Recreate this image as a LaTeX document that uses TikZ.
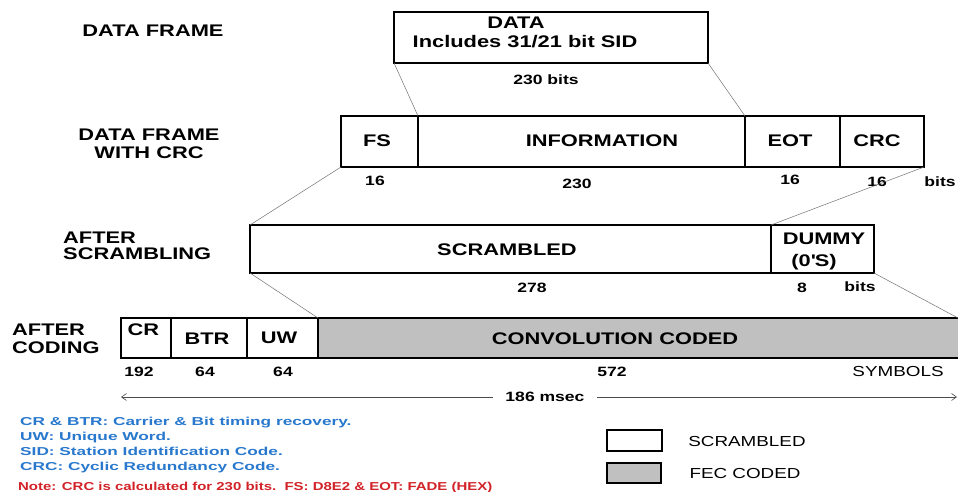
\documentclass[tikz,border=0pt]{standalone}
\usepackage{fontspec}
\setmainfont{Liberation Sans}[FakeStretch=1.3]
\newfontfamily\notefont{Liberation Sans}[FakeStretch=1.5]
\usetikzlibrary{arrows.meta}
\definecolor{fecgray}{RGB}{192,192,192}
\definecolor{noteblue}{RGB}{40,120,205}
\definecolor{notered}{RGB}{210,35,40}
\tikzset{
  box/.style={draw=black, line width=1.6pt, anchor=north west, inner sep=0pt, outer sep=0pt},
  legbox/.style={box, line width=2.2pt},
  conn/.style={draw=black!55, line width=0.5pt},
  dim/.style={draw=black!70, line width=0.6pt, {Straight Barb[length=5pt,width=7pt]}-{Straight Barb[length=5pt,width=7pt]}},
  big/.style={font=\bfseries\fontsize{16.8}{18.5}\selectfont, inner sep=0pt},
  num/.style={font=\bfseries\fontsize{13.5}{15}\selectfont, inner sep=0pt},
  reg/.style={font=\fontsize{14.5}{16}\selectfont, inner sep=0pt},
  note/.style={font=\notefont\bfseries\fontsize{11.5}{13}\selectfont, inner sep=0pt, anchor=base west, text=noteblue},
  rednote/.style={font=\bfseries\fontsize{11.5}{13}\selectfont, inner sep=0pt, anchor=base west, text=notered},
}
\begin{document}
\begin{tikzpicture}[x=1pt,y=-1pt]
\clip (0,0) rectangle (958,492);
\fill[white] (0,0) rectangle (958,492);

% ---------- row labels
\node[big] (l1) at (153,31) {DATA FRAME};
\node[big, align=center] (l2) at (149,144) {DATA FRAME\\WITH CRC};
\node[big, align=left, anchor=west, font=\bfseries\fontsize{16.8}{16.5}\selectfont] (l3) at (63,246) {AFTER\\SCRAMBLING};
\node[big, align=left, anchor=west] (l4) at (12,339) {AFTER\\CODING};

% ---------- row 1
\node[box, minimum width=314pt, minimum height=51pt] (data) at (394,12) {};
\node[big] (tdata1) at (516,23) {DATA};
\node[big] (tdata2) at (525,42) {Includes 31/21 bit SID};
\node[num] (n230b) at (546,80) {230 bits};

% ---------- row 2
\node[box, minimum width=77pt, minimum height=51pt] (fs) at (341,116) {};
\node[box, minimum width=327pt, minimum height=51pt] (info) at (418,116) {};
\node[box, minimum width=95pt, minimum height=51pt] (eot) at (745,116) {};
\node[box, minimum width=84pt, minimum height=51pt] (crc) at (840,116) {};
\node[big] (tfs) at (377,141) {FS};
\node[big] (tinfo) at (602,141) {INFORMATION};
\node[big] (teot) at (790,141) {EOT};
\node[big] (tcrc) at (877,141) {CRC};
\node[num] (n16a) at (375,181) {16};
\node[num] (n230) at (577,184) {230};
\node[num] (n16b) at (790,180) {16};
\node[num] (n16c) at (877,182) {16};
\node[num] (nbits1) at (940,182) {bits};

% ---------- row 3
\node[box, minimum width=521pt, minimum height=48pt] (scr) at (250,225) {};
\node[box, minimum width=103pt, minimum height=48pt] (dummy) at (771,225) {};
\node[big] (tscr) at (507,250) {SCRAMBLED};
\node[big] (tdum1) at (824,239) {DUMMY};
\node[big] (tdum2) at (814,262) {(0\textquotesingle S)};
\node[num] (n278) at (532,288) {278};
\node[num] (n8) at (802,288) {8};
\node[num] (nbits2) at (860,287) {bits};

% ---------- row 4
\node[box, minimum width=50pt, minimum height=40pt] (cr) at (121,318) {};
\node[box, minimum width=76pt, minimum height=40pt] (btr) at (171,318) {};
\node[box, minimum width=71pt, minimum height=40pt] (uw) at (247,318) {};
\node[box, fill=fecgray, minimum width=660pt, minimum height=40pt] (conv) at (318,318) {};
\coordinate (convend) at (958,318);
\node[big] (tcr) at (143.5,330) {CR};
\node[big] (tbtr) at (207,339) {BTR};
\node[big] (tuw) at (279,338) {UW};
\node[big] (tconv) at (615,339) {CONVOLUTION CODED};
\node[num] (n192) at (139,372) {192};
\node[num] (n64a) at (205,372) {64};
\node[num] (n64b) at (283,372) {64};
\node[num] (n572) at (612,372) {572};
\node[reg] (nsym) at (898,372) {SYMBOLS};

% ---------- connectors
\draw[conn] (data.south west) -- (info.north west);
\draw[conn] (data.south east) -- (info.north east);
\draw[conn] (fs.south west) -- (scr.north west);
\draw[conn] (crc.south east) -- (scr.north east);
\draw[conn] (scr.south west) -- (conv.north west);
\draw[conn] (dummy.south east) -- (convend);

% ---------- duration
\coordinate (dl) at (121,397);
\coordinate (dr) at (957,397);
\draw[dim] (dl) -- (dr);
\node[num, fill=white, inner xsep=12pt, inner ysep=2pt] (msec) at (545,397) {186 msec};

% ---------- notes
\node[note] (nt1) at (20,425) {CR \& BTR: Carrier \& Bit timing recovery.};
\node[note] (nt2) at (20,440) {UW: Unique Word.};
\node[note] (nt3) at (20,455) {SID: Station Identification Code.};
\node[note] (nt4) at (20,470) {CRC: Cyclic Redundancy Code.};
\node[rednote] (nt5) at (18,490) {Note: CRC is calculated for 230 bits.\ \ FS: D8E2 \& EOT: FADE (HEX)};

% ---------- legend
\node[legbox, minimum width=55pt, minimum height=21pt] (legs) at (607,430) {};
\node[legbox, fill=fecgray, minimum width=54pt, minimum height=20pt] (legf) at (607,463) {};
\node[reg] (tlegs) at (747,442) {SCRAMBLED};
\node[reg] (tlegf) at (745,474) {FEC CODED};
\end{tikzpicture}
\end{document}
